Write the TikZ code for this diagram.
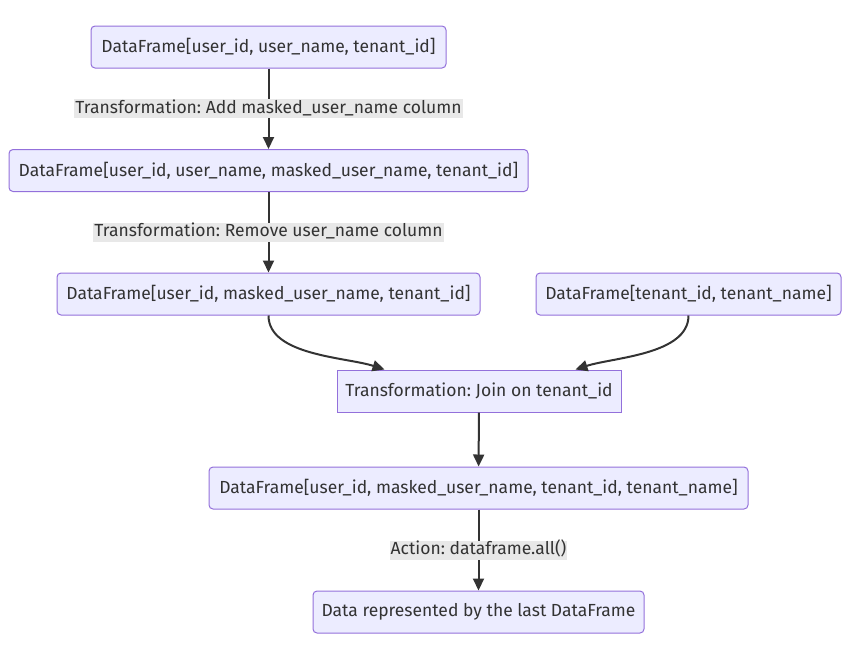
\documentclass[tikz,border=0pt]{standalone}
\usepackage{fontspec}
\setmainfont{Fira Sans}
\usetikzlibrary{arrows.meta}
\definecolor{boxfill}{HTML}{ECECFF}
\definecolor{boxline}{HTML}{9370DB}
\definecolor{edgeline}{HTML}{333333}
\definecolor{labelbg}{HTML}{E8E8E8}
\definecolor{txt}{HTML}{333333}
\frenchspacing

\begin{document}
\begin{tikzpicture}[x=1pt, y=1pt, font=\fontsize{17.5}{20}\selectfont, text=txt,
    frame/.style={draw=boxline, fill=boxfill, line width=1pt, rounded corners=4pt,
      minimum height=42pt, inner sep=0pt},
    sqframe/.style={frame, rounded corners=0pt},
    flow/.style={draw=edgeline, line width=2pt, -{Triangle[length=12pt,width=11pt]}},
    elabel/.style={fill=labelbg, inner sep=1pt, text height=13pt, text depth=4pt}]
  \useasboundingbox (0,0) rectangle (850,-659);
  \node[frame, minimum width=355pt] (df1) at (268.5,-47) {DataFrame[user\_id, user\_name, tenant\_id]};
  \node[frame, minimum width=519pt] (df2) at (268.5,-170.5) {DataFrame[user\_id, user\_name, masked\_user\_name, tenant\_id]};
  \node[frame, minimum width=423pt] (df3) at (268.5,-294) {DataFrame[user\_id, masked\_user\_name, tenant\_id]};
  \node[frame, minimum width=305pt] (tn) at (688.5,-294) {DataFrame[tenant\_id, tenant\_name]};
  \node[sqframe, minimum width=284pt] (join) at (479,-391) {Transformation: Join on tenant\_id};
  \node[frame, minimum width=539pt] (df4) at (478.5,-488) {DataFrame[user\_id, masked\_user\_name, tenant\_id, tenant\_name]};
  \node[frame, minimum width=331pt] (res) at (478.5,-612) {Data represented by the last DataFrame};
  % edges
  \draw[flow] (df1) -- node[elabel] (l1) {Transformation: Add masked\_user\_name column} (df2);
  \draw[flow] (df2) -- node[elabel] (l2) {Transformation: Remove user\_name column} (df3);
  \draw[flow] (df3.south) to[out=-90, in=162, looseness=0.8] ([xshift=48pt]join.north west);
  \draw[flow] (tn.south) to[out=-90, in=18, looseness=0.8] ([xshift=-46pt]join.north east);
  \draw[flow] (join) -- (df4);
  \draw[flow] (df4) -- node[elabel] (l3) {Action: dataframe.all()} (res);
\end{tikzpicture}
\end{document}
